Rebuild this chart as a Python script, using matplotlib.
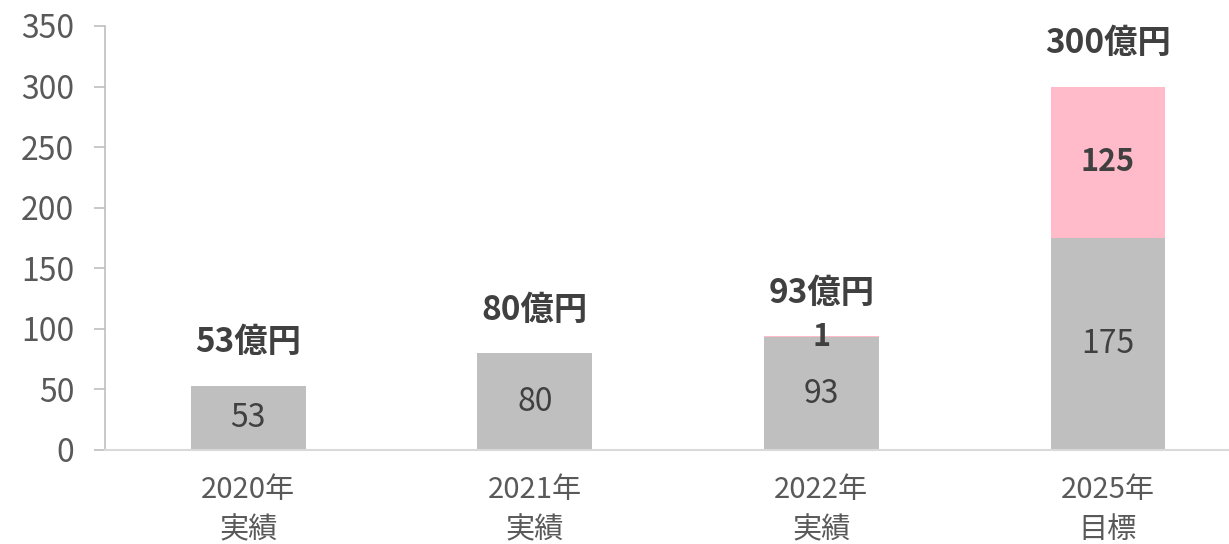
import matplotlib
matplotlib.use("Agg")
import matplotlib.pyplot as plt

plt.rcParams['font.family'] = ['Noto Sans CJK JP', 'DejaVu Sans']

# データ
categories = ["2020年\n実績", "2021年\n実績", "2022年\n実績", "2025年\n目標"]
base_values = [53, 80, 93, 175]
extra_values = [0, 0, 1, 125]
total_labels = ["53億円", "80億円", "93億円", "300億円"]

gray = "#BFBFBF"
pink = "#FFBBC9"
text_dark = "#404040"
tick_color = "#595959"

fig = plt.figure(figsize=(12.29, 5.44), dpi=100)
ax = fig.add_axes([105 / 1229, 94 / 544, 1124 / 1229, 424 / 544])

x = range(len(categories))
ax.bar(x, base_values, width=0.4, color=gray, zorder=2)
ax.bar(x, extra_values, width=0.4, bottom=base_values, color=pink, zorder=2)

for i in x:
    b = base_values[i]
    e = extra_values[i]
    ax.text(i, b / 2, str(b), ha="center", va="center",
            fontsize=23, color=text_dark)
    if e > 0:
        ax.text(i, b + e / 2, str(e), ha="center", va="center",
                fontsize=22, fontweight="bold", color=text_dark)
    ax.annotate(total_labels[i], (i, b + e), xytext=(0, 31),
                textcoords="offset points", ha="center", va="center",
                fontsize=24, fontweight="bold", color=text_dark)

ax.set_xlim(-0.5, 3.423)
ax.set_ylim(0, 350)
ax.set_yticks(range(0, 351, 50))
ax.set_xticks(list(x))
ax.set_xticklabels(categories, fontsize=21, color=tick_color, linespacing=1.45)
ax.tick_params(axis="y", labelsize=23, labelcolor=tick_color, color="#BFBFBF",
               length=8, width=1.2, pad=14)
ax.tick_params(axis="x", length=0, pad=18)

for side in ["top", "right"]:
    ax.spines[side].set_visible(False)
ax.spines["left"].set_color("#BFBFBF")
ax.spines["left"].set_linewidth(1.2)
ax.spines["bottom"].set_color("#D9D9D9")
ax.spines["bottom"].set_linewidth(1.5)

fig.savefig("out.png", dpi=100)
